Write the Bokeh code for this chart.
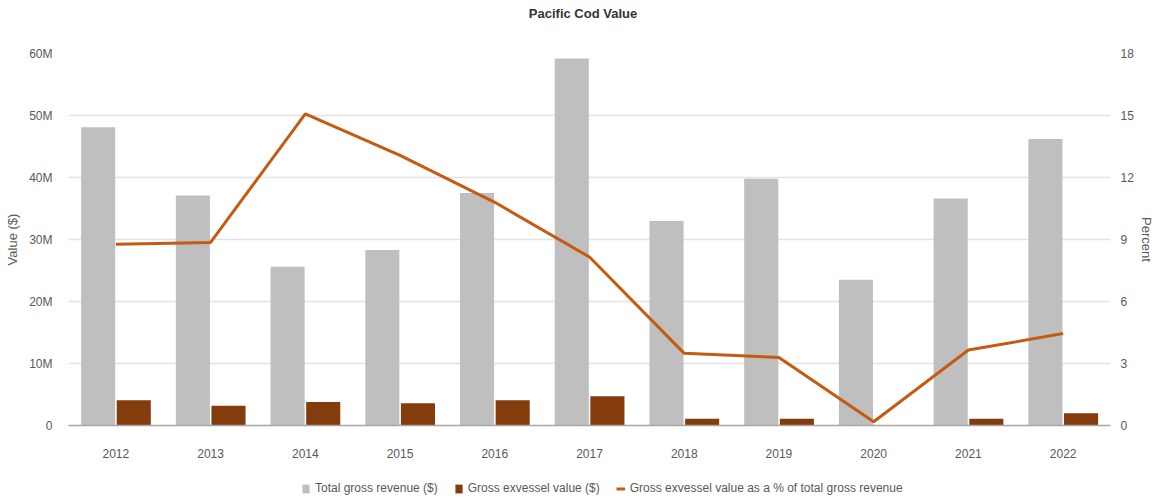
from bokeh.plotting import figure
from bokeh.layouts import column
from bokeh.models import (ColumnDataSource, Range1d, LinearAxis, FixedTicker, Div,
                          CustomJSTickFormatter, Legend, LegendItem, FactorRange)
from bokeh.transform import dodge
from bokeh.embed import file_html
from bokeh.resources import INLINE

years = ["2012", "2013", "2014", "2015", "2016", "2017", "2018", "2019", "2020", "2021", "2022"]
total_revenue = [48.1e6, 37.1e6, 25.6e6, 28.3e6, 37.5e6, 59.2e6, 33.0e6, 39.8e6, 23.5e6, 36.6e6, 46.2e6]
exvessel_value = [4.06e6, 3.2e6, 3.8e6, 3.6e6, 4.06e6, 4.7e6, 1.1e6, 1.1e6, 0.03e6, 1.1e6, 1.97e6]
exvessel_pct = [8.77, 8.86, 15.08, 13.07, 10.8, 8.15, 3.49, 3.29, 0.18, 3.65, 4.45]
left_ticks = [0, 10e6, 20e6, 30e6, 40e6, 50e6, 60e6]
right_ticks = [0, 3, 6, 9, 12, 15, 18]
legend_labels = ["Total gross revenue ($)", "Gross exvessel value ($)",
                 "Gross exvessel value as a % of total gross revenue"]
title_text = "Pacific Cod Value"

FONT = "Liberation Sans"
TXT = "#595959"
GREY = "#BFBFBF"
BROWN = "#843C0C"
ORANGE = "#C55A11"

src = ColumnDataSource(dict(year=years, total=total_revenue, exv=exvessel_value, pct=exvessel_pct))

title = Div(text=title_text, width=1156, height=28, margin=0,
            styles={"text-align": "center", "font-weight": "bold", "font-size": "13px",
                    "font-family": FONT, "line-height": "28px", "color": "#333333",
                    "padding-left": "10px", "box-sizing": "border-box", "width": "1156px"})

p = figure(x_range=FactorRange(*years), y_range=Range1d(0, 60e6),
           width=1156, height=432, output_backend="svg", toolbar_location=None,
           min_border_left=68, min_border_right=40, min_border_top=25, min_border_bottom=34)
p.extra_y_ranges = {"pct": Range1d(0, 18)}
p.outline_line_color = None
p.background_fill_color = "white"

p.vbar(x=dodge("year", -0.187, range=p.x_range), top="total", width=0.36,
       source=src, fill_color=GREY, line_color=None)
p.vbar(x=dodge("year", 0.189, range=p.x_range), top="exv", width=0.36,
       source=src, fill_color=BROWN, line_color=None)
p.line(x="year", y="pct", source=src, y_range_name="pct",
       line_color=ORANGE, line_width=3)

# left axis
ya = p.yaxis[0]
ya.ticker = FixedTicker(ticks=left_ticks)
ya.formatter = CustomJSTickFormatter(code="return tick == 0 ? '0' : (tick/1e6) + 'M';")
ya.axis_label = "Value ($)"
ya.axis_label_text_font = FONT
ya.axis_label_text_font_size = "13px"
ya.axis_label_text_font_style = "normal"
ya.axis_label_text_color = TXT
ya.axis_label_standoff = 6
ya.major_label_text_font = FONT
ya.major_label_text_font_size = "12px"
ya.major_label_text_color = TXT
ya.major_label_standoff = 10
ya.axis_line_color = None
ya.major_tick_line_color = None
ya.minor_tick_line_color = None

# right axis
ra = LinearAxis(y_range_name="pct", ticker=FixedTicker(ticks=right_ticks),
                axis_label="Percent")
ra.axis_label_text_font = FONT
ra.axis_label_text_font_size = "13px"
ra.axis_label_text_font_style = "normal"
ra.axis_label_text_color = TXT
ra.axis_label_standoff = 2
ra.major_label_text_font = FONT
ra.major_label_text_font_size = "12px"
ra.major_label_text_color = TXT
ra.major_label_standoff = 4
ra.axis_line_color = None
ra.major_tick_line_color = None
ra.minor_tick_line_color = None
p.add_layout(ra, "right")

xa = p.xaxis[0]
xa.major_label_text_font = FONT
xa.major_label_text_font_size = "12px"
xa.major_label_text_color = TXT
xa.major_label_standoff = 17
xa.axis_line_color = "#A6A6A6"
xa.axis_line_width = 1.5
xa.major_tick_line_color = None
xa.minor_tick_line_color = None

p.xgrid.grid_line_color = None
p.ygrid.grid_line_color = "#E3E3E3"
p.ygrid.grid_line_width = 1.5
p.ygrid.ticker = FixedTicker(ticks=left_ticks)

# legend strip: same series as hidden renderers, so only the legend shows
q = figure(width=1156, height=41, output_backend="svg", toolbar_location=None,
           x_axis_type=None, y_axis_type=None, x_range=FactorRange(*years),
           y_range=Range1d(0, 60e6),
           min_border_left=0, min_border_right=0, min_border_top=0, min_border_bottom=0)
q.extra_y_ranges = {"pct": Range1d(0, 18)}
q.outline_line_color = None
q.xgrid.grid_line_color = None
q.ygrid.grid_line_color = None
lg = q.vbar(x="year", top="total", width=0.36, source=src, fill_color=GREY, line_color=None, visible=False)
lb = q.vbar(x="year", top="exv", width=0.36, source=src, fill_color=BROWN, line_color=None, visible=False)
ll = q.line(x="year", y="pct", source=src, y_range_name="pct", line_color=ORANGE, line_width=3, visible=False)

legend = Legend(items=[
    LegendItem(label=legend_labels[0], renderers=[lg]),
    LegendItem(label=legend_labels[1], renderers=[lb]),
    LegendItem(label=legend_labels[2], renderers=[ll]),
], orientation="horizontal", location=(233, 6))
legend.label_text_font = FONT
legend.label_text_font_size = "12px"
legend.label_text_color = TXT
legend.glyph_width = 9
legend.glyph_height = 11
legend.label_standoff = 5
legend.spacing = 16
legend.border_line_color = None
legend.background_fill_alpha = 0
legend.padding = 2
legend.margin = 0
q.add_layout(legend, "center")

layout = column(title, p, q, spacing=0)
open("out.html", "w").write(file_html(layout, INLINE))
